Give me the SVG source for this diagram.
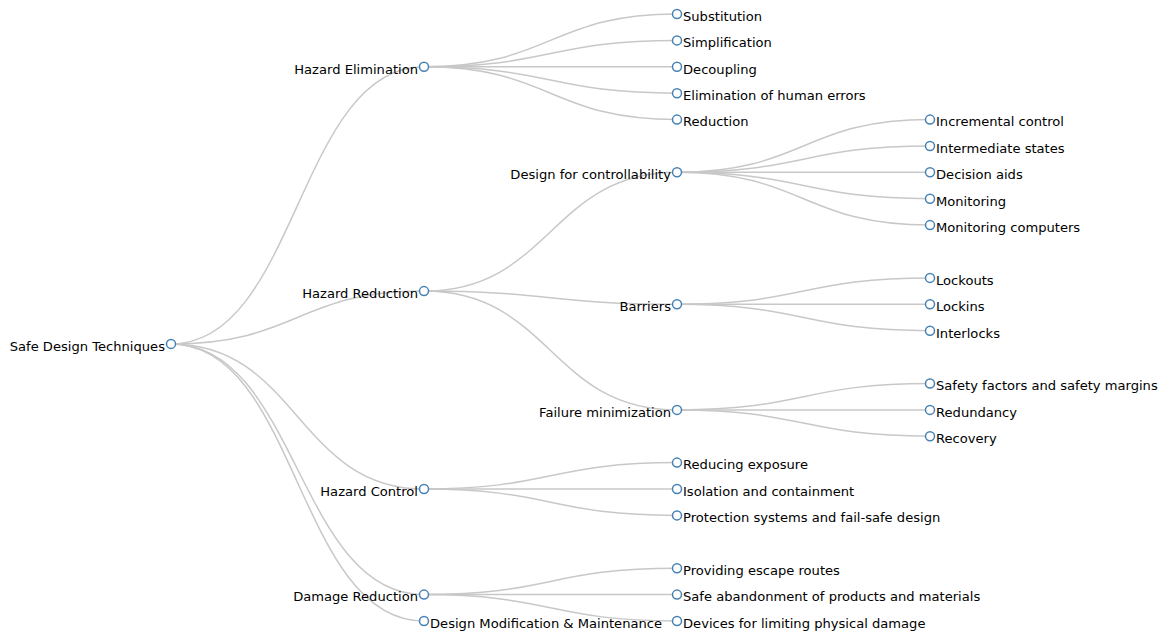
<svg xmlns="http://www.w3.org/2000/svg" width="1166" height="633" viewBox="0 0 1166 633">
  <style>
    .link { fill: none; stroke: #c8c8c8; stroke-width: 1.5; }
    .node circle { fill: #fff; stroke: #4682b4; stroke-width: 1.5; }
    .node text { font-family: "DejaVu Sans", Verdana, sans-serif; font-size: 13.1px; fill: #000; }
    .inner text { text-anchor: end; }
    .leaf text { text-anchor: start; }
  </style>
  <rect width="1166" height="633" fill="#fff"/>
  <g id="links">
    <!-- root to first level -->
    <path class="link" d="M171,343.9C297.5,343.9 297.5,66.8 424,66.8"/>
    <path class="link" d="M171,343.9C297.5,343.9 297.5,291.1 424,291.1"/>
    <path class="link" d="M171,343.9C297.5,343.9 297.5,489 424,489"/>
    <path class="link" d="M171,343.9C297.5,343.9 297.5,594.6 424,594.6"/>
    <path class="link" d="M171,343.9C297.5,343.9 297.5,621 424,621"/>
    <!-- Hazard Elimination -->
    <path class="link" d="M424,66.8C550.5,66.8 550.5,14 677,14"/>
    <path class="link" d="M424,66.8C550.5,66.8 550.5,40.4 677,40.4"/>
    <path class="link" d="M424,66.8C550.5,66.8 550.5,66.8 677,66.8"/>
    <path class="link" d="M424,66.8C550.5,66.8 550.5,93.2 677,93.2"/>
    <path class="link" d="M424,66.8C550.5,66.8 550.5,119.6 677,119.6"/>
    <!-- Hazard Reduction -->
    <path class="link" d="M424,291.1C550.5,291.1 550.5,172.3 677,172.3"/>
    <path class="link" d="M424,291.1C550.5,291.1 550.5,304.3 677,304.3"/>
    <path class="link" d="M424,291.1C550.5,291.1 550.5,409.9 677,409.9"/>
    <!-- Hazard Control -->
    <path class="link" d="M424,489C550.5,489 550.5,462.6 677,462.6"/>
    <path class="link" d="M424,489C550.5,489 550.5,489 677,489"/>
    <path class="link" d="M424,489C550.5,489 550.5,515.4 677,515.4"/>
    <!-- Damage Reduction -->
    <path class="link" d="M424,594.6C550.5,594.6 550.5,568.2 677,568.2"/>
    <path class="link" d="M424,594.6C550.5,594.6 550.5,594.6 677,594.6"/>
    <path class="link" d="M424,594.6C550.5,594.6 550.5,621 677,621"/>
    <!-- Design for controllability -->
    <path class="link" d="M677,172.3C803.5,172.3 803.5,119.6 930,119.6"/>
    <path class="link" d="M677,172.3C803.5,172.3 803.5,146 930,146"/>
    <path class="link" d="M677,172.3C803.5,172.3 803.5,172.3 930,172.3"/>
    <path class="link" d="M677,172.3C803.5,172.3 803.5,198.7 930,198.7"/>
    <path class="link" d="M677,172.3C803.5,172.3 803.5,225.1 930,225.1"/>
    <!-- Barriers -->
    <path class="link" d="M677,304.3C803.5,304.3 803.5,277.9 930,277.9"/>
    <path class="link" d="M677,304.3C803.5,304.3 803.5,304.3 930,304.3"/>
    <path class="link" d="M677,304.3C803.5,304.3 803.5,330.7 930,330.7"/>
    <!-- Failure minimization -->
    <path class="link" d="M677,409.9C803.5,409.9 803.5,383.5 930,383.5"/>
    <path class="link" d="M677,409.9C803.5,409.9 803.5,409.9 930,409.9"/>
    <path class="link" d="M677,409.9C803.5,409.9 803.5,436.2 930,436.2"/>
  </g>

  <g id="root" class="node inner" transform="translate(171,343.9)"><circle r="4.5"/><text x="-6" dy=".52em">Safe Design Techniques</text></g>

  <g id="hazard-elimination" class="node inner" transform="translate(424,66.8)"><circle r="4.5"/><text x="-6" dy=".52em">Hazard Elimination</text></g>
  <g id="hazard-reduction" class="node inner" transform="translate(424,291.1)"><circle r="4.5"/><text x="-6" dy=".52em">Hazard Reduction</text></g>
  <g id="hazard-control" class="node inner" transform="translate(424,489)"><circle r="4.5"/><text x="-6" dy=".52em">Hazard Control</text></g>
  <g id="damage-reduction" class="node inner" transform="translate(424,594.6)"><circle r="4.5"/><text x="-6" dy=".52em">Damage Reduction</text></g>
  <g id="design-modification" class="node leaf" transform="translate(424,621)"><circle r="4.5"/><text x="6" dy=".52em">Design Modification &amp; Maintenance</text></g>

  <g id="substitution" class="node leaf" transform="translate(677,14)"><circle r="4.5"/><text x="6" dy=".52em">Substitution</text></g>
  <g id="simplification" class="node leaf" transform="translate(677,40.4)"><circle r="4.5"/><text x="6" dy=".52em">Simplification</text></g>
  <g id="decoupling" class="node leaf" transform="translate(677,66.8)"><circle r="4.5"/><text x="6" dy=".52em">Decoupling</text></g>
  <g id="elimination-human-errors" class="node leaf" transform="translate(677,93.2)"><circle r="4.5"/><text x="6" dy=".52em">Elimination of human errors</text></g>
  <g id="reduction" class="node leaf" transform="translate(677,119.6)"><circle r="4.5"/><text x="6" dy=".52em">Reduction</text></g>

  <g id="design-controllability" class="node inner" transform="translate(677,172.3)"><circle r="4.5"/><text x="-6" dy=".52em">Design for controllability</text></g>
  <g id="barriers" class="node inner" transform="translate(677,304.3)"><circle r="4.5"/><text x="-6" dy=".52em">Barriers</text></g>
  <g id="failure-minimization" class="node inner" transform="translate(677,409.9)"><circle r="4.5"/><text x="-6" dy=".52em">Failure minimization</text></g>

  <g id="reducing-exposure" class="node leaf" transform="translate(677,462.6)"><circle r="4.5"/><text x="6" dy=".52em">Reducing exposure</text></g>
  <g id="isolation-containment" class="node leaf" transform="translate(677,489)"><circle r="4.5"/><text x="6" dy=".52em">Isolation and containment</text></g>
  <g id="protection-systems" class="node leaf" transform="translate(677,515.4)"><circle r="4.5"/><text x="6" dy=".52em">Protection systems and fail-safe design</text></g>

  <g id="escape-routes" class="node leaf" transform="translate(677,568.2)"><circle r="4.5"/><text x="6" dy=".52em">Providing escape routes</text></g>
  <g id="safe-abandonment" class="node leaf" transform="translate(677,594.6)"><circle r="4.5"/><text x="6" dy=".52em">Safe abandonment of products and materials</text></g>
  <g id="limiting-damage" class="node leaf" transform="translate(677,621)"><circle r="4.5"/><text x="6" dy=".52em">Devices for limiting physical damage</text></g>

  <g id="incremental-control" class="node leaf" transform="translate(930,119.6)"><circle r="4.5"/><text x="6" dy=".52em">Incremental control</text></g>
  <g id="intermediate-states" class="node leaf" transform="translate(930,146)"><circle r="4.5"/><text x="6" dy=".52em">Intermediate states</text></g>
  <g id="decision-aids" class="node leaf" transform="translate(930,172.3)"><circle r="4.5"/><text x="6" dy=".52em">Decision aids</text></g>
  <g id="monitoring" class="node leaf" transform="translate(930,198.7)"><circle r="4.5"/><text x="6" dy=".52em">Monitoring</text></g>
  <g id="monitoring-computers" class="node leaf" transform="translate(930,225.1)"><circle r="4.5"/><text x="6" dy=".52em">Monitoring computers</text></g>

  <g id="lockouts" class="node leaf" transform="translate(930,277.9)"><circle r="4.5"/><text x="6" dy=".52em">Lockouts</text></g>
  <g id="lockins" class="node leaf" transform="translate(930,304.3)"><circle r="4.5"/><text x="6" dy=".52em">Lockins</text></g>
  <g id="interlocks" class="node leaf" transform="translate(930,330.7)"><circle r="4.5"/><text x="6" dy=".52em">Interlocks</text></g>

  <g id="safety-factors" class="node leaf" transform="translate(930,383.5)"><circle r="4.5"/><text x="6" dy=".52em">Safety factors and safety margins</text></g>
  <g id="redundancy" class="node leaf" transform="translate(930,409.9)"><circle r="4.5"/><text x="6" dy=".52em">Redundancy</text></g>
  <g id="recovery" class="node leaf" transform="translate(930,436.2)"><circle r="4.5"/><text x="6" dy=".52em">Recovery</text></g>
</svg>
